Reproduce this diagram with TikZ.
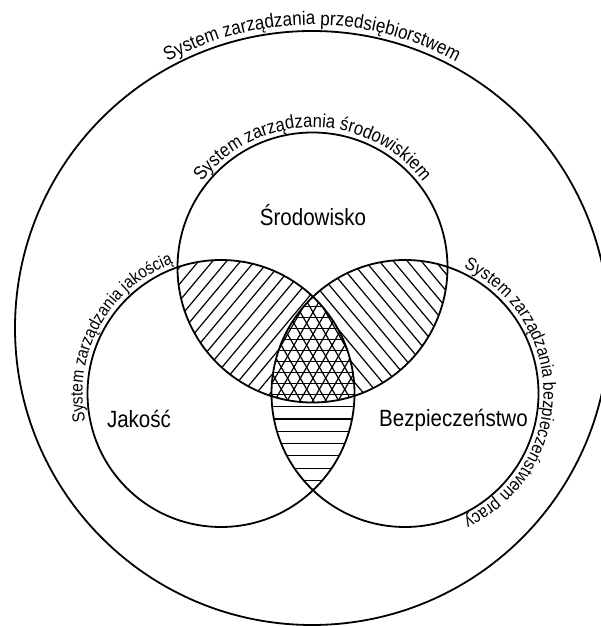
\documentclass[tikz,border=0pt]{standalone}
\usepackage{fontspec}
\setmainfont{Liberation Sans}[FakeStretch=0.875]
\usetikzlibrary{decorations.text}

\newcommand{\arcfont}[1]{\fontsize{#1}{#1}\selectfont}

\tikzset{
  ring/.style={line width=1.8pt},
  hatch/.style={line width=1.2pt},
  areaname/.style={anchor=base, inner sep=0pt, font=\fontsize{23.5}{24}\selectfont},
  arctext/.style 2 args={decorate, decoration={text along path, text align=center, text={|\arcfont{#1}|#2}}}
}

\begin{document}
\begin{tikzpicture}[x=1pt,y=1pt]
  \clip (0,0) rectangle (601,626);

  % centres of the circles
  \coordinate (O) at (312,298);
  \coordinate (T) at (312.5,358.5);
  \coordinate (L) at (221,232.5);
  \coordinate (R) at (405,232.5);

  % srodowisko + jakosc
  \begin{scope}
    \clip (T) circle (135pt);
    \clip (L) circle (133.5pt);
    \foreach \c in {100,114,...,400}
      \draw[hatch] (\c-96,182) -- (\c+96,412);
  \end{scope}

  % srodowisko + bezpieczenstwo
  \begin{scope}
    \clip (T) circle (135pt);
    \clip (R) circle (133.5pt);
    \foreach \c in {240,254,...,520}
      \draw[hatch] (\c-96,412) -- (\c+96,182);
  \end{scope}

  % jakosc + bezpieczenstwo
  \begin{scope}
    \clip (L) circle (133.5pt);
    \clip (R) circle (133.5pt);
    \foreach \k in {-1,...,9}
      \draw[hatch] (250,219.3-12.3*\k) -- (380,219.3-12.3*\k);
  \end{scope}

  % all three systems
  \begin{scope}
    \clip (T) circle (135pt);
    \clip (L) circle (133.5pt);
    \clip (R) circle (133.5pt);
    \fill[white] (250,200) rectangle (380,340);
    \foreach \k in {-1,...,10}
      \draw[hatch] (250,319.3-11*\k) -- (380,319.3-11*\k);
    \foreach \j in {-9,...,9} {
      \draw[hatch] (313+12.7*\j-60,209.8) -- (313+12.7*\j+60,417.8);
      \draw[hatch] (313+12.7*\j-60,417.8) -- (313+12.7*\j+60,209.8);
    }
  \end{scope}

  % circles
  \draw[ring] (O) circle (297pt);
  \draw[ring] (T) circle (135pt);
  \draw[ring] (L) circle (133.5pt);
  \draw[ring] (R) circle (133.5pt);

  % names along the circles
  \path[arctext={19.5}{System zarządzania przedsiębiorstwem}]
    (O) ++(150:303pt) arc[start angle=150, end angle=30, radius=303pt];
  \path[arctext={19}{System zarządzania środowiskiem}]
    (T) ++(160:140pt) arc[start angle=160, end angle=20, radius=140pt];
  \path[arctext={17.5}{System zarządzania jakością}]
    (L) ++(216:138.5pt) arc[start angle=216, end angle=86, radius=138.5pt];
  \path[arctext={18}{System zarządzania bezpieczeństwem pracy}]
    (R) ++(85:138.5pt) arc[start angle=85, end angle=-85, radius=138.5pt];

  % names of the areas
  \node[areaname] (srod) at (313,400) {Środowisko};
  \node[areaname] (jak) at (139,198) {Jakość};
  \node[areaname] (bezp) at (453.5,199) {Bezpieczeństwo};
\end{tikzpicture}
\end{document}
